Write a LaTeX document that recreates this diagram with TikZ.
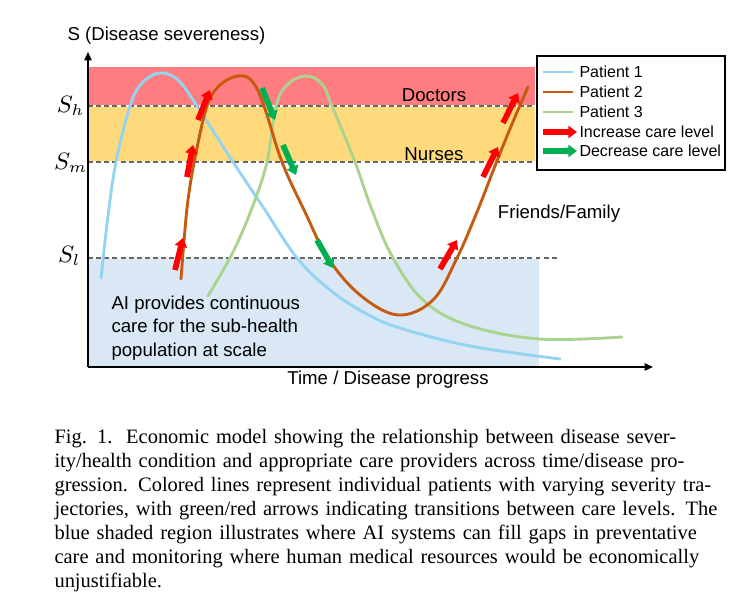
\documentclass[tikz,border=0pt]{standalone}
\usepackage{fontspec}
\setmainfont{Liberation Serif}
\newfontfamily\plotfont{Liberation Sans}
\usetikzlibrary{arrows.meta}

\definecolor{doctorband}{HTML}{FF7C80}
\definecolor{nurseband}{HTML}{FFDA7C}
\definecolor{aiband}{HTML}{DAE7F5}
\definecolor{patientone}{HTML}{93D4F3}
\definecolor{patienttwo}{HTML}{C55A11}
\definecolor{patientthree}{HTML}{A9D48E}
\definecolor{increasered}{HTML}{FF0000}
\definecolor{decreasegreen}{HTML}{00B050}
\definecolor{levelgray}{HTML}{666666}

\tikzset{
  plottext/.style={font=\plotfont\fontsize{7.1}{9}\selectfont, inner sep=0pt},
  keytext/.style={font=\plotfont\fontsize{6.1}{7}\selectfont, inner sep=0pt, anchor=west},
  levelname/.style={font=\fontsize{9}{10}\selectfont, inner sep=0pt, anchor=east},
  levelline/.style={draw=levelgray, line width=0.45pt, dash pattern=on 1.9pt off 1.2pt},
  levelgap/.style={draw=white, line width=0.9pt},
  patient/.style={line width=1.1pt, line cap=round},
  careup/.style={draw=increasered, line width=2.2pt,
    -{Triangle[length=3.3pt,width=4.6pt]}},
  caredown/.style={draw=decreasegreen, line width=2.2pt,
    -{Triangle[length=3.3pt,width=4.6pt]}},
  axis/.style={line width=0.6pt, -{Triangle[length=3.2pt,width=2.8pt]}}
}

\newcommand{\careregions}{
  \coordinate (d0) at (89,67);
  \coordinate (d1) at (535,106);
  \coordinate (n0) at (89,106);
  \coordinate (n1) at (535,162);
  \coordinate (a0) at (89,258);
  \coordinate (a1) at (539,367);

  \fill[doctorband] (d0) rectangle (d1);
  \fill[nurseband] (n0) rectangle (n1);
  \fill[aiband] (a0) rectangle (a1);

  \coordinate (sh) at (88,106);
  \coordinate (sm) at (88,162);
  \coordinate (sl) at (88,258);

  \draw[levelgap] (sh) -- (535,106);
  \draw[levelgap] (sm) -- (535,162);
  \draw[levelgap] (sl) -- (557,258);
  \draw[levelline] (sh) -- (535,106);
  \draw[levelline] (sm) -- (535,162);
  \draw[levelline] (sl) -- (557,258);
}

\newcommand{\capline}[1]{\hbox to \hsize{#1}}

\begin{document}
\begin{tikzpicture}[x=0.381pt, y=-0.381pt]
  \useasboundingbox (0,0) rectangle (734,604);
  \careregions

  \draw[patient, patientone] plot[smooth, tension=0.6] coordinates {
    (101,278) (108,216) (116,162) (130,106) (142,83) (160,73) (178,80)
    (197,106) (233,162) (265,210) (297,258) (330,290) (365,313)
    (400,328) (470,346) (560,359)};

  \draw[patient, patientthree] plot[smooth, tension=0.6] coordinates {
    (208,296) (233,252) (252,208) (267,162) (276,106) (288,84) (306,76)
    (322,84) (332,106) (355,162) (372,210) (393,258) (423,300)
    (467,325) (539,339) (622,337)};

  \draw[patient, patienttwo] plot[smooth, tension=0.6] coordinates {
    (181,279) (184,241) (188,200) (195,158) (207,106) (220,85) (238,76)
    (252,81) (264,106) (282,162) (305,212) (328,258) (360,295)
    (398,315) (433,300) (457,258) (477,212) (495,166) (512,124) (528,87)};

  \foreach \sx/\sy/\ex/\ey in {175/270/183/238, 187/177/193/145,
    198/120/210/90, 440/269/457/240, 483/177/498/147, 503/123/518/93}
    \draw[careup] (\sx,\sy) -- (\ex,\ey);

  \foreach \sx/\sy/\ex/\ey in {262/88/275/120, 283/145/296/175,
    317/240/333/268}
    \draw[caredown] (\sx,\sy) -- (\ex,\ey);

  \coordinate (origin) at (88,367);
  \coordinate (ytip) at (88,52);
  \coordinate (xtip) at (653,367);
  \draw[axis] (origin) -- (ytip);
  \draw[axis] (origin) -- (xtip);

  \node[plottext, anchor=west] (ytitle) at (67,36) {S (Disease severeness)};
  \node[plottext] (xtitle) at (388,380) {Time / Disease progress};

  \node[levelname] (shname) at (85,106) {$S_h$};
  \node[levelname] (smname) at (88,163) {$S_m$};
  \node[levelname] (slname) at (81,256) {$S_l$};

  \node[plottext] (doctors) at (434,95) {Doctors};
  \node[plottext] (nurses) at (434,154) {Nurses};
  \node[plottext] (family) at (559,214) {Friends/Family};
  \node[plottext, anchor=west, align=left] (aicare) at (111,328)
    {AI provides continuous\\care for the sub-health\\population at scale};

  \draw[line width=0.4pt, fill=white] (537,56) rectangle (725,170);
  \draw[patient, patientone, line cap=butt] (543,72) -- (573,72);
  \draw[patient, patienttwo, line cap=butt] (543,92) -- (573,92);
  \draw[patient, patientthree, line cap=butt] (543,112) -- (573,112);
  \draw[careup] (543,132) -- (577,132);
  \draw[caredown] (543,151) -- (577,151);
  \node[keytext] (keyone) at (579,72) {Patient 1};
  \node[keytext] (keytwo) at (579,92) {Patient 2};
  \node[keytext] (keythree) at (579,112) {Patient 3};
  \node[keytext] (keyup) at (579,132) {Increase care level};
  \node[keytext] (keydown) at (579,151) {Decrease care level};

  \node[anchor=north west, inner sep=0pt, text width=253.6pt,
    font=\fontsize{7.8}{9.14}\selectfont] (caption) at (54,429) {%
    \capline{Fig. 1.\ \ Economic model showing the relationship between disease sever-}
    \capline{ity/health condition and appropriate care providers across time/disease pro-}
    \capline{gression. Colored lines represent individual patients with varying severity tra-}
    \capline{jectories, with green/red arrows indicating transitions between care levels. The}
    \capline{blue shaded region illustrates where AI systems can fill gaps in preventative}
    \capline{care and monitoring where human medical resources would be economically}
    \hbox{unjustifiable.}};
\end{tikzpicture}
\end{document}
